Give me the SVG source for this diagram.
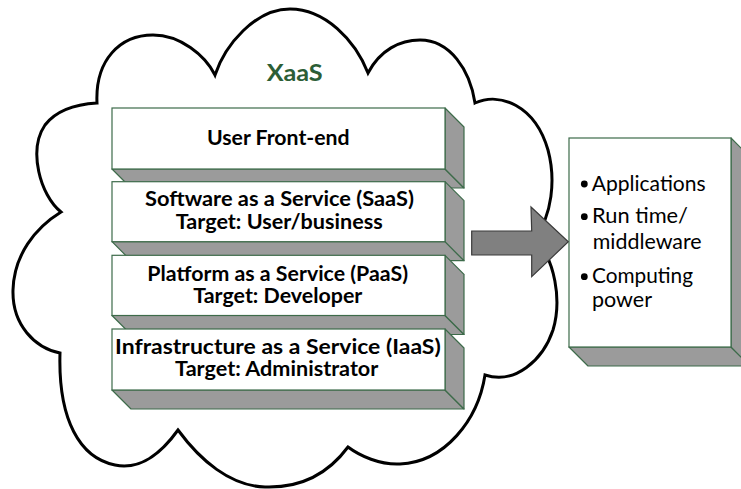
<svg xmlns="http://www.w3.org/2000/svg" width="741" height="489" viewBox="0 0 741 489">
<style>
.cloud{fill:#fff;stroke:#000;stroke-width:3;stroke-linejoin:miter}
.front{fill:#fff;stroke:#3d6b4a;stroke-width:1.2}
.side{fill:#9b9b9b;stroke:#3d6b4a;stroke-width:1.2;stroke-linejoin:round}
.bt{font-family:Lato,"Liberation Sans",sans-serif;font-weight:bold;font-size:20px;fill:#000;text-anchor:middle}
.rt{font-family:Lato,"Liberation Sans",sans-serif;font-size:21px;fill:#000}
.title{font-family:Lato,"Liberation Sans",sans-serif;font-weight:bold;font-size:23px;fill:#2c5e36;text-anchor:middle}
.arrow{fill:#808080;stroke:#3a3a3a;stroke-width:1.2;stroke-linejoin:miter}
</style>
<rect width="741" height="489" fill="#fff"/>
<g id="cloud">
<path class="cloud" d="M61,212 C40,195 28,150 45,125 C58,108 80,104 97,103 C95,60 120,35 153,35 C180,35 205,55 215,75 C225,45 255,9 290,9 C325,9 355,40 368,73 C380,50 400,40 420,40 C450,40 470,70 475,103 C500,92 535,105 548,150 C556,180 552,215 535,238 C555,260 562,300 553,330 C543,360 515,385 485,375 C478,420 445,462 400,464 C380,465 360,456 348,447 C325,478 295,488 265,487 C230,486 200,460 178,430 C160,455 140,470 115,465 C80,458 58,420 60,353 C35,348 12,325 13,290 C14,255 35,228 61,212 Z"/>
<text class="title" x="294.7" y="81" textLength="56" lengthAdjust="spacingAndGlyphs">XaaS</text>
</g>
<g id="user-frontend">
<polygon class="side" points="112,169 445,169 464,188 131,188"/>
<polygon class="side" points="445,108 464,127 464,188 445,169"/>
<rect class="front" x="112" y="108" width="333" height="61"/>
<text class="bt" x="278.3" y="145" textLength="142.7" lengthAdjust="spacingAndGlyphs">User Front-end</text>
</g>
<g id="saas">
<polygon class="side" points="112,241.7 445,241.7 464,260.7 131,260.7"/>
<polygon class="side" points="445,181.7 464,200.7 464,260.7 445,241.7"/>
<rect class="front" x="112" y="181.7" width="333" height="60"/>
<text class="bt" x="279.5" y="206" textLength="269" lengthAdjust="spacingAndGlyphs">Software as a Service (SaaS)</text>
<text class="bt" x="279.2" y="228.5" textLength="207" lengthAdjust="spacingAndGlyphs">Target: User/business</text>
</g>
<g id="paas">
<polygon class="side" points="112,315.5 445,315.5 464,334.5 131,334.5"/>
<polygon class="side" points="445,255.3 464,274.3 464,334.5 445,315.5"/>
<rect class="front" x="112" y="255.3" width="333" height="60.2"/>
<text class="bt" x="277.7" y="281" textLength="260.7" lengthAdjust="spacingAndGlyphs">Platform as a Service (PaaS)</text>
<text class="bt" x="277.8" y="302.7" textLength="169" lengthAdjust="spacingAndGlyphs">Target: Developer</text>
</g>
<g id="iaas">
<polygon class="side" points="112,390 445,390 464,409 131,409"/>
<polygon class="side" points="445,329 464,348 464,409 445,390"/>
<rect class="front" x="112" y="329" width="333" height="61"/>
<text class="bt" x="277.9" y="354" textLength="325.7" lengthAdjust="spacingAndGlyphs">Infrastructure as a Service (IaaS)</text>
<text class="bt" x="276.7" y="376" textLength="203.3" lengthAdjust="spacingAndGlyphs">Target: Administrator</text>
</g>
<g id="resources">
<polygon class="side" points="569,347 731,347 750,366 588,366"/>
<polygon class="side" points="731,138 750,157 750,366 731,347"/>
<rect class="front" x="569" y="138" width="162" height="209"/>
<circle cx="584.3" cy="184" r="3.4" fill="#000"/>
<circle cx="584.3" cy="216.7" r="3.4" fill="#000"/>
<circle cx="584.3" cy="276.7" r="3.4" fill="#000"/>
<text class="rt" x="591.7" y="191" textLength="114" lengthAdjust="spacingAndGlyphs">Applications</text>
<text class="rt" x="592" y="223.3" textLength="96" lengthAdjust="spacingAndGlyphs">Run time/</text>
<text class="rt" x="592.7" y="249.3" textLength="109" lengthAdjust="spacingAndGlyphs">middleware</text>
<text class="rt" x="592" y="282.7" textLength="101" lengthAdjust="spacingAndGlyphs">Computing</text>
<text class="rt" x="592" y="306.7" textLength="60" lengthAdjust="spacingAndGlyphs">power</text>
</g>
<g id="connectors">
<polygon class="arrow" points="471.7,231 531.7,231 531,207 568.3,241.7 531.7,276.7 531.7,255 471.7,255"/>
</g>
</svg>
